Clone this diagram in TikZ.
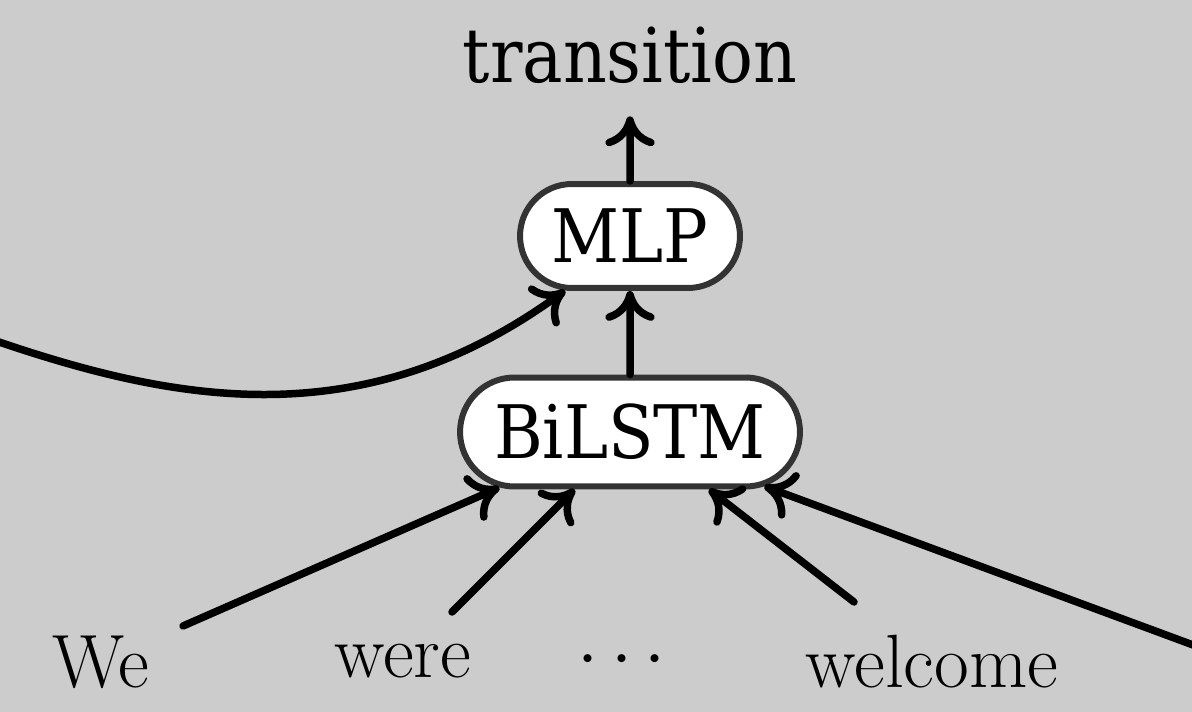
\RequirePackage{fix-cm}
\documentclass[tikz,border=0pt]{standalone}
\usepackage{fontspec}
\newfontfamily\labfont{DejaVu Serif Condensed}
\usetikzlibrary{arrows.meta,shapes.misc}
\definecolor{bg}{HTML}{CCCCCC}
\definecolor{rim}{HTML}{333333}
\begin{document}
\begin{tikzpicture}[x=0.02cm,y=-0.02cm,
  box/.style={rounded rectangle, draw=rim, fill=white, line width=0.12cm,
    inner sep=0pt, font=\labfont\fontsize{42}{42}\selectfont},
  word/.style={anchor=base, inner sep=0pt, font=\fontsize{43}{43}\selectfont},
  arr/.style={line width=0.15cm, line cap=round,
    -{Computer Modern Rightarrow[length=17pt,width=28pt]}}]
  % canvas
  \fill[bg] (0,0) rectangle (1192,712);
  \useasboundingbox (0,0) rectangle (1192,712);

  % network blocks
  \node[box, minimum width=4.4cm, minimum height=2.08cm] (mlp) at (630,236) {MLP};
  \node[box, minimum width=6.8cm, minimum height=2.18cm] (bil) at (630,432) {BiLSTM};
  \node[anchor=base, inner xsep=0pt, inner ysep=0.64cm,
        font=\labfont\fontsize{43}{43}\selectfont] (trans) at (630,83) {transition};

  % input words
  \node[word] (we)   at (101,687) {We};
  \node[word] (were) at (403,677) {were};
  \node[word] (dots) at (622,677) {$\cdots$};
  \node[word] (wel)  at (932,687) {welcome};

  % loose ends of the input connectors
  \coordinate (s1) at (183,626);
  \coordinate (s2) at (452,612);
  \coordinate (s3) at (854,602);
  \coordinate (s4) at (1212,652);
  \coordinate (c0) at (-4,341);

  % connectors
  \draw[arr] (mlp) -- (trans);
  \draw[arr] (bil) -- (mlp);
  \draw[arr] (c0) .. controls (170,400) and (360,440) .. (mlp.220);
  \draw[arr] (s1) -- (bil.203);
  \draw[arr] (s2) -- (bil.226);
  \draw[arr] (s3) -- (bil.-36);
  \draw[arr] (s4) -- (bil.-22);
\end{tikzpicture}
\end{document}
